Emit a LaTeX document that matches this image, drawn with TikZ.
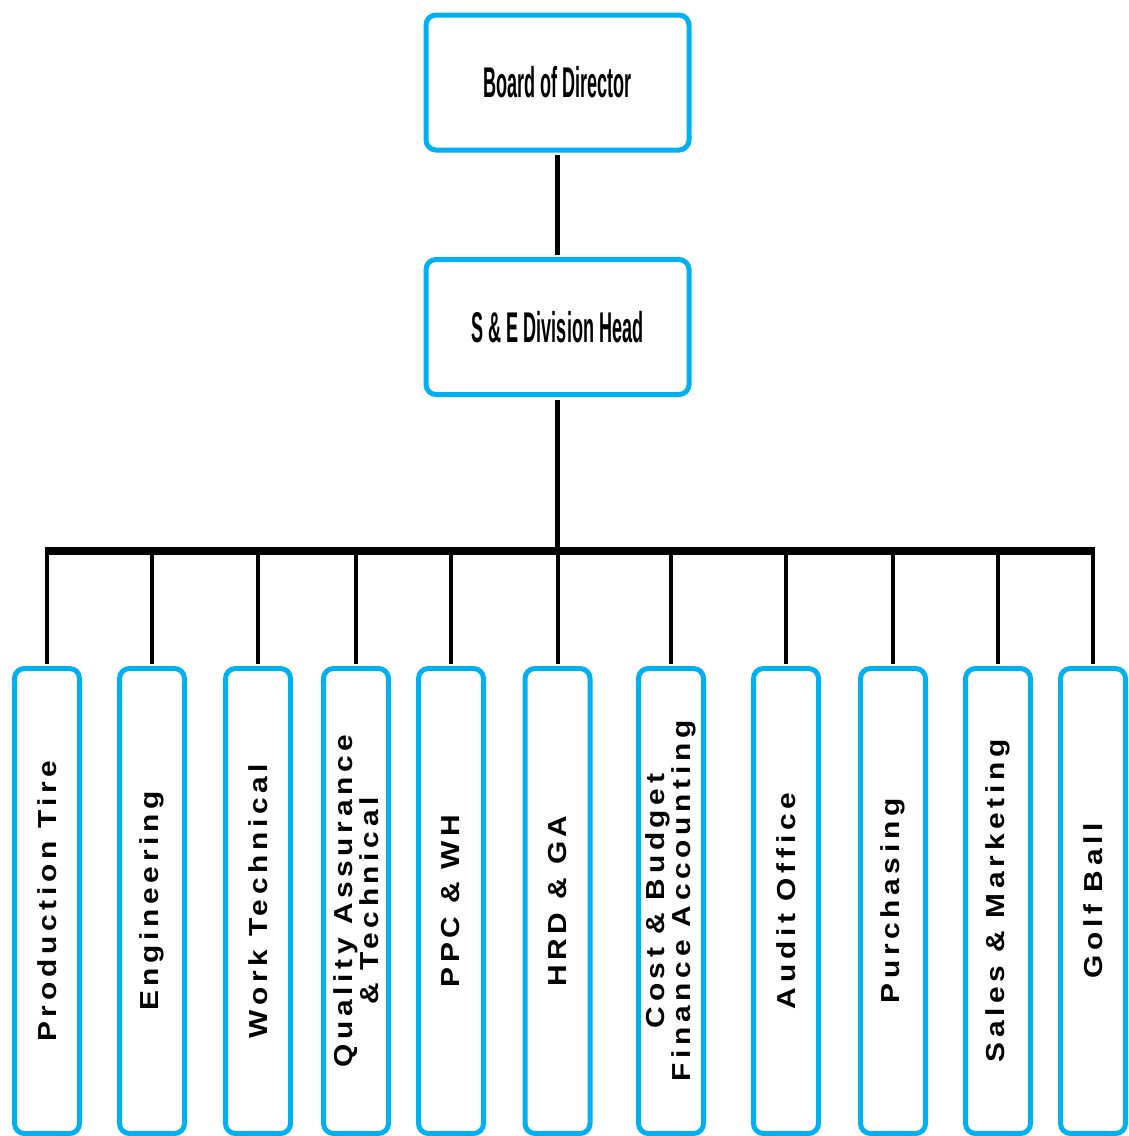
\documentclass[tikz,border=0pt]{standalone}
\usepackage{fontspec}
\setmainfont{Liberation Sans}
\newfontfamily\headfont[FakeStretch=0.42]{Liberation Sans}
\newfontfamily\deptfont[FakeStretch=1.15,LetterSpace=18]{Liberation Sans}
\usetikzlibrary{positioning}
\definecolor{boxblue}{RGB}{0,176,240}

\begin{document}
\begin{tikzpicture}[x=1pt,y=-1pt]
 \tikzset{top/.style={draw=boxblue,line width=5pt,rounded corners=10pt,inner sep=0pt,
   minimum width=263pt,minimum height=135pt,font=\headfont\bfseries\fontsize{43}{43}\selectfont}}
 \tikzset{dept/.style={draw=boxblue,line width=5pt,rounded corners=10pt,inner sep=0pt,rotate=90,
   minimum width=465pt,minimum height=65pt,align=center,font=\deptfont\bfseries\fontsize{26}{25.5}\selectfont}}
 \tikzset{link/.style={line width=4.5pt,shorten >=2.5pt,shorten <=2.5pt}}
 \tikzset{drop/.style={line width=4pt,shorten >=2.5pt}}
 \tikzset{bus/.style={line width=8pt,shorten >=-2pt,shorten <=-2pt}}
 \useasboundingbox (0,0) rectangle (1128,1136);

 \node[top] (B) at (557.5,82.5) {Board of Director};
 \node[top] (S) at (557.5,327) {S \& E Division Head};
 \coordinate (bus) at (557.5,551);

 \node[dept] (PT) at (47,901) {Production Tire};
 \node[dept] (EN) at (152,901) {Engineering};
 \node[dept] (WT) at (258,901) {Work Technical};
 \node[dept] (QA) at (356,901) {Quality Assurance\\\& Technical};
 \node[dept] (PW) at (451,901) {PPC \& WH};
 \node[dept] (HR) at (557.5,901) {HRD \& GA};
 \node[dept] (CB) at (671,901) {Cost \& Budget\\Finance Accounting};
 \node[dept] (AO) at (786,901) {Audit Office};
 \node[dept] (PU) at (893,901) {Purchasing};
 \node[dept] (SM) at (998,901) {Sales \& Marketing};
 \node[dept] (GB) at (1093,901) {Golf Ball};

 \draw[link] (B) -- (S);
 \draw[link] (S) -- ([yshift=-2.5pt]S |- bus);

 % drops from the bus
 \draw[drop] (PT.east |- bus) -- (PT.east);
 \draw[drop] (EN.east |- bus) -- (EN.east);
 \draw[drop] (WT.east |- bus) -- (WT.east);
 \draw[drop] (QA.east |- bus) -- (QA.east);
 \draw[drop] (PW.east |- bus) -- (PW.east);
 \draw[drop] (HR.east |- bus) -- (HR.east);
 \draw[drop] (CB.east |- bus) -- (CB.east);
 \draw[drop] (AO.east |- bus) -- (AO.east);
 \draw[drop] (PU.east |- bus) -- (PU.east);
 \draw[drop] (SM.east |- bus) -- (SM.east);
 \draw[drop] (GB.east |- bus) -- (GB.east);
 \draw[bus] (PT.east |- bus) -- (GB.east |- bus);
\end{tikzpicture}
\end{document}
